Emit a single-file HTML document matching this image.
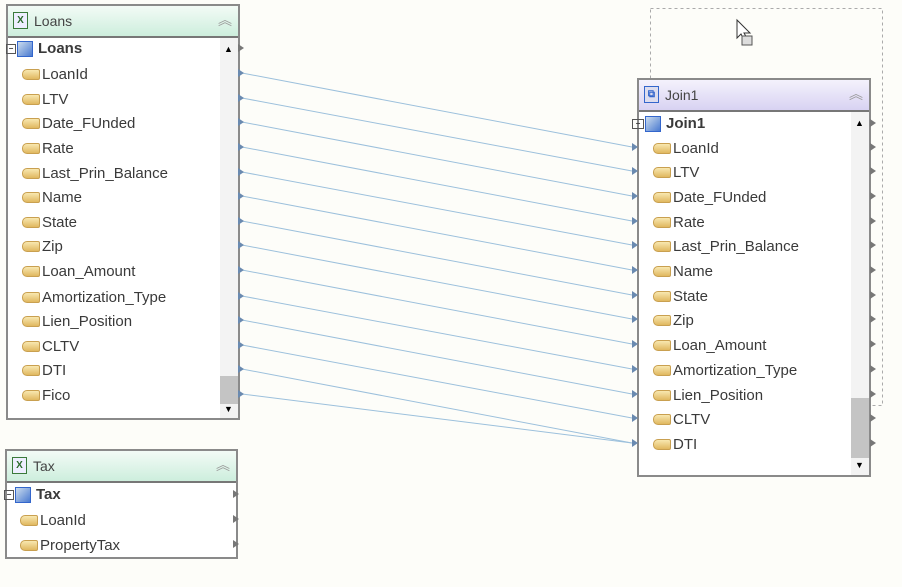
<!DOCTYPE html>
<html><head><meta charset="utf-8"><style>
body{margin:0;width:902px;height:587px;background:#fdfdf9;position:relative;overflow:hidden;font-family:"Liberation Sans",sans-serif;}
.box{position:absolute;border:2px solid #8a8a8a;background:#fff;box-sizing:border-box;}
.hdr{position:absolute;left:0;right:0;top:0;height:30px;border-bottom:2px solid #777;font-size:14px;color:#444;}
.hdr .t{position:absolute;left:26px;top:7px;}
.hdr .x{position:absolute;left:5px;top:6px;width:13px;height:15px;border:1px solid #3a7a3a;background:#eef;font-size:10px;color:#2a6a2a;text-align:center;line-height:15px;font-weight:bold}
.hdr .c{position:absolute;right:6px;top:4px;font-size:14px;color:#999;}
.row{position:absolute;height:18px;font-size:15px;color:#3a3a3a;white-space:nowrap;line-height:18px;}
.ic{display:inline-block;width:16px;height:9px;background:linear-gradient(#f8e8b0,#e0b860);border:1px solid #c9a050;border-radius:5px 2px 2px 5px;vertical-align:middle;margin-right:2px;position:relative;top:-1px}
.tb{display:inline-block;width:14px;height:14px;background:linear-gradient(135deg,#cde,#4a7ad0);border:1px solid #36c;vertical-align:middle;margin-right:5px}
.mn{display:inline-block;width:8px;height:8px;border:1px solid #555;vertical-align:middle;margin-right:1px;font-size:8px;line-height:7px;text-align:center}
.sb{position:absolute;width:18px;background:#f3f3f3;}
.pt{position:absolute;width:0;height:0;border-top:4px solid transparent;border-bottom:4px solid transparent;border-left:6px solid #777;}
.pb{position:absolute;width:0;height:0;border-top:4px solid transparent;border-bottom:4px solid transparent;border-left:6px solid #6a8ab0;}
</style></head><body>

<svg width="902" height="587" style="position:absolute;left:0;top:0">
<g stroke="#9cc0dc" stroke-width="1" fill="none">
<line x1="242" y1="73" x2="632" y2="147"/>
<line x1="242" y1="98" x2="632" y2="171"/>
<line x1="242" y1="122" x2="632" y2="196"/>
<line x1="242" y1="147" x2="632" y2="221"/>
<line x1="242" y1="172" x2="632" y2="245"/>
<line x1="242" y1="196" x2="632" y2="270"/>
<line x1="242" y1="221" x2="632" y2="295"/>
<line x1="242" y1="245" x2="632" y2="319"/>
<line x1="242" y1="270" x2="632" y2="344"/>
<line x1="242" y1="296" x2="632" y2="369"/>
<line x1="242" y1="320" x2="632" y2="394"/>
<line x1="242" y1="345" x2="632" y2="418"/>
<line x1="242" y1="369" x2="632" y2="443"/>
<line x1="242" y1="394" x2="632" y2="443"/>
</g>
<rect x="650.5" y="8.5" width="232" height="397" fill="none" stroke="#aaa" stroke-dasharray="3,3"/>
<path d="M737 20 L737 38 L741 34 L745 42 L748 40 L744 33 L750 33 Z" fill="#fff" stroke="#333"/>
<rect x="742" y="36" width="10" height="9" fill="#ddd" stroke="#555"/>
</svg>

<!-- Loans -->
<div class="box" style="left:6px;top:4px;width:234px;height:416px;">
<div class="hdr" style="background:linear-gradient(#f3fbf6,#cdeedd);"><div class="x">X</div><div class="t">Loans</div><div class="c">︽</div></div>
<div class="sb" style="left:212px;top:32px;height:380px;"></div>
<div class="sb" style="left:212px;top:370px;height:28px;background:#c4c4c4"></div>
<div style="position:absolute;left:216px;top:38px;font-size:9px">▲</div>
<div style="position:absolute;left:216px;top:398px;font-size:9px">▼</div>
</div>
<div class="row" style="left:6px;top:40px;font-weight:bold"><span class="mn">−</span><span class="tb"></span>Loans</div>
<div class="row" style="left:22px;top:66px"><span class="ic"></span>LoanId</div>
<div class="row" style="left:22px;top:91px"><span class="ic"></span>LTV</div>
<div class="row" style="left:22px;top:115px"><span class="ic"></span>Date_FUnded</div>
<div class="row" style="left:22px;top:140px"><span class="ic"></span>Rate</div>
<div class="row" style="left:22px;top:165px"><span class="ic"></span>Last_Prin_Balance</div>
<div class="row" style="left:22px;top:189px"><span class="ic"></span>Name</div>
<div class="row" style="left:22px;top:214px"><span class="ic"></span>State</div>
<div class="row" style="left:22px;top:238px"><span class="ic"></span>Zip</div>
<div class="row" style="left:22px;top:263px"><span class="ic"></span>Loan_Amount</div>
<div class="row" style="left:22px;top:289px"><span class="ic"></span>Amortization_Type</div>
<div class="row" style="left:22px;top:313px"><span class="ic"></span>Lien_Position</div>
<div class="row" style="left:22px;top:338px"><span class="ic"></span>CLTV</div>
<div class="row" style="left:22px;top:362px"><span class="ic"></span>DTI</div>
<div class="row" style="left:22px;top:387px"><span class="ic"></span>Fico</div>
<div class="pt" style="left:238px;top:44px"></div>
<div class="pb" style="left:238px;top:69px"></div><div class="pb" style="left:238px;top:94px"></div><div class="pb" style="left:238px;top:118px"></div><div class="pb" style="left:238px;top:143px"></div><div class="pb" style="left:238px;top:168px"></div><div class="pb" style="left:238px;top:192px"></div><div class="pb" style="left:238px;top:217px"></div><div class="pb" style="left:238px;top:241px"></div><div class="pb" style="left:238px;top:266px"></div><div class="pb" style="left:238px;top:292px"></div><div class="pb" style="left:238px;top:316px"></div><div class="pb" style="left:238px;top:341px"></div><div class="pb" style="left:238px;top:365px"></div><div class="pb" style="left:238px;top:390px"></div>

<!-- Tax -->
<div class="box" style="left:5px;top:449px;width:233px;height:110px;">
<div class="hdr" style="background:linear-gradient(#f3fbf6,#cdeedd);"><div class="x">X</div><div class="t">Tax</div><div class="c">︽</div></div>
</div>
<div class="row" style="left:4px;top:486px;font-weight:bold"><span class="mn">−</span><span class="tb"></span>Tax</div>
<div class="row" style="left:20px;top:512px"><span class="ic"></span>LoanId</div>
<div class="row" style="left:20px;top:537px"><span class="ic"></span>PropertyTax</div>
<div class="pt" style="left:233px;top:490px"></div><div class="pt" style="left:233px;top:515px"></div><div class="pt" style="left:233px;top:540px"></div>

<!-- Join1 -->
<div class="box" style="left:637px;top:78px;width:234px;height:399px;">
<div class="hdr" style="background:linear-gradient(#f4f2fc,#d8d2f2);"><div class="x" style="border-color:#36c;color:#36c;background:#dde">⧉</div><div class="t">Join1</div><div class="c">︽</div></div>
<div class="sb" style="left:212px;top:32px;height:363px;"></div>
<div class="sb" style="left:212px;top:318px;height:60px;background:#c4c4c4"></div>
<div style="position:absolute;left:216px;top:38px;font-size:9px">▲</div>
<div style="position:absolute;left:216px;top:380px;font-size:9px">▼</div>
</div>
<div class="row" style="left:632px;top:115px;font-weight:bold"><span class="mn" style="width:10px">−</span><span class="tb"></span>Join1</div>
<div class="row" style="left:653px;top:140px"><span class="ic"></span>LoanId</div>
<div class="row" style="left:653px;top:164px"><span class="ic"></span>LTV</div>
<div class="row" style="left:653px;top:189px"><span class="ic"></span>Date_FUnded</div>
<div class="row" style="left:653px;top:214px"><span class="ic"></span>Rate</div>
<div class="row" style="left:653px;top:238px"><span class="ic"></span>Last_Prin_Balance</div>
<div class="row" style="left:653px;top:263px"><span class="ic"></span>Name</div>
<div class="row" style="left:653px;top:288px"><span class="ic"></span>State</div>
<div class="row" style="left:653px;top:312px"><span class="ic"></span>Zip</div>
<div class="row" style="left:653px;top:337px"><span class="ic"></span>Loan_Amount</div>
<div class="row" style="left:653px;top:362px"><span class="ic"></span>Amortization_Type</div>
<div class="row" style="left:653px;top:387px"><span class="ic"></span>Lien_Position</div>
<div class="row" style="left:653px;top:411px"><span class="ic"></span>CLTV</div>
<div class="row" style="left:653px;top:436px"><span class="ic"></span>DTI</div>
<div class="pb" style="left:632px;top:143px"></div><div class="pb" style="left:632px;top:167px"></div><div class="pb" style="left:632px;top:192px"></div><div class="pb" style="left:632px;top:217px"></div><div class="pb" style="left:632px;top:241px"></div><div class="pb" style="left:632px;top:266px"></div><div class="pb" style="left:632px;top:291px"></div><div class="pb" style="left:632px;top:315px"></div><div class="pb" style="left:632px;top:340px"></div><div class="pb" style="left:632px;top:365px"></div><div class="pb" style="left:632px;top:390px"></div><div class="pb" style="left:632px;top:414px"></div><div class="pb" style="left:632px;top:439px"></div>
<div class="pt" style="left:870px;top:119px"></div><div class="pt" style="left:870px;top:143px"></div><div class="pt" style="left:870px;top:167px"></div><div class="pt" style="left:870px;top:192px"></div><div class="pt" style="left:870px;top:217px"></div><div class="pt" style="left:870px;top:241px"></div><div class="pt" style="left:870px;top:266px"></div><div class="pt" style="left:870px;top:291px"></div><div class="pt" style="left:870px;top:315px"></div><div class="pt" style="left:870px;top:340px"></div><div class="pt" style="left:870px;top:365px"></div><div class="pt" style="left:870px;top:390px"></div><div class="pt" style="left:870px;top:414px"></div><div class="pt" style="left:870px;top:439px"></div>
</body></html>
